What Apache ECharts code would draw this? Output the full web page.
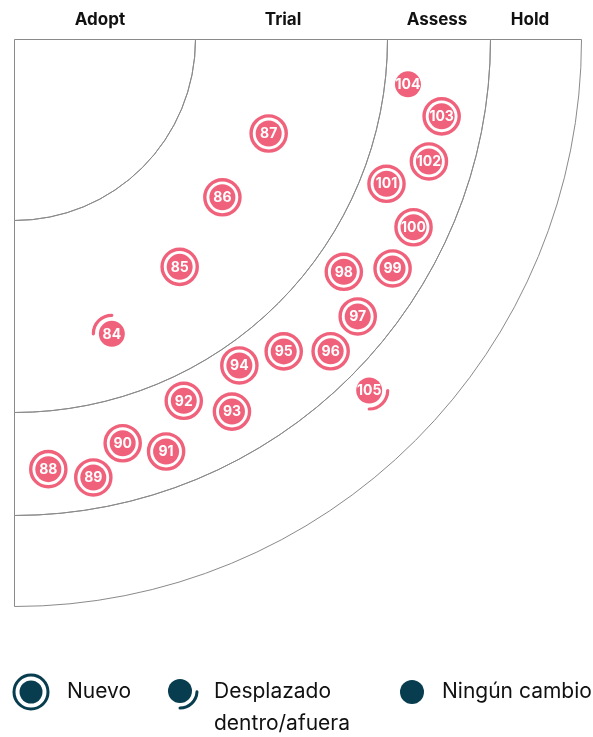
<!DOCTYPE html>
<html>
<head>
<meta charset="utf-8">
<script src="https://cdn.jsdelivr.net/npm/echarts@6/dist/echarts.min.js"></script>
<style>
html,body{margin:0;padding:0;background:#fff;}
#chart{width:593px;height:737px;}
</style>
</head>
<body>
<div id="chart"></div>
<script>
// ---- data ----
const ringNames = ['Adopt', 'Trial', 'Assess', 'Hold'];
const ringEdges = [181, 373, 476, 567];          // outer radius of each ring (radius units)
const ringLabelX = [100, 283, 437, 530];

const blipIds    = [84, 85, 86, 87, 88, 89, 90, 91, 92, 93, 94, 95, 96, 97, 98, 99, 100, 101, 102, 103, 104, 105];
const blipRadius = [310, 281, 261, 271, 431, 445, 418, 439, 399, 431, 396, 412, 444, 441, 403, 442, 441, 399, 432, 434, 396, 499];
const blipAngle  = [71.7, 54.0, 37.2, 20.3, 85.5, 79.8, 75.0, 69.8, 64.9, 59.7, 55.4, 49.2, 44.6, 38.9, 35.2, 31.2, 25.2, 21.2, 16.4, 10.2, 6.5, 44.7];
const blipStatus = ['in', 'new', 'new', 'new', 'new', 'new', 'new', 'new', 'new', 'new', 'new', 'new', 'new', 'new', 'new', 'new', 'new', 'new', 'new', 'new', 'none', 'out'];

const legendLabels = ['Nuevo', 'Desplazado\ndentro/afuera', 'Ningún cambio'];

// ---- styles ----
const PINK = '#f0627b';
const TEAL = '#073d4f';
const LINE = '#8a8a8a';
const CX = 14.5, CY = 39.5;

const ringWidths = ringEdges.map((e, i) => e - (i ? ringEdges[i - 1] : 0));

const ringSeries = ringWidths.map((w, i) => ({
  type: 'bar',
  coordinateSystem: 'polar',
  polarIndex: 0,
  stack: 'rings',
  name: ringNames[i],
  data: [w],
  barWidth: '100%',
  barCategoryGap: '0%',
  silent: true,
  itemStyle: { color: 'rgba(0,0,0,0)', borderColor: LINE, borderWidth: 1 }
}));

const blipData = blipIds.map((id, i) => [blipRadius[i], blipAngle[i], id]);

function renderBlip(params, api) {
  const p = api.coord([api.value(0), api.value(1)]);
  const cx = p[0], cy = p[1];
  const st = blipStatus[params.dataIndex];
  const ch = [];
  if (st === 'new') {
    ch.push({ type: 'circle', shape: { cx, cy, r: 17.6 }, style: { fill: null, stroke: PINK, lineWidth: 3.4 } });
  } else if (st === 'in') {
    ch.push({ type: 'arc', shape: { cx, cy, r: 18.5, startAngle: Math.PI, endAngle: Math.PI * 1.5, clockwise: true },
      style: { fill: null, stroke: PINK, lineWidth: 3.2, lineCap: 'round' } });
  } else if (st === 'out') {
    ch.push({ type: 'arc', shape: { cx, cy, r: 18.5, startAngle: 0, endAngle: Math.PI * 0.5, clockwise: true },
      style: { fill: null, stroke: PINK, lineWidth: 3.2, lineCap: 'round' } });
  }
  ch.push({ type: 'circle', shape: { cx, cy, r: 13 }, style: { fill: PINK } });
  ch.push({ type: 'text', style: { text: String(api.value(2)), x: cx, y: cy + 0.5, align: 'center', verticalAlign: 'middle',
    fill: '#fff', font: 'bold 14px Inter, "Open Sans", sans-serif' } });
  return { type: 'group', children: ch };
}

const graphics = [];
ringNames.forEach((n, i) => {
  graphics.push({ type: 'text', silent: true, position: [ringLabelX[i], 20],
    style: { text: n, x: 0, y: 0, align: 'center', verticalAlign: 'middle', fill: '#111', font: 'bold 17px Inter, sans-serif' } });
});
// legend
const LY = 692;
const LFONT = '21px Inter, sans-serif';
graphics.push(
  { type: 'circle', shape: { cx: 31, cy: LY, r: 17 }, style: { fill: null, stroke: TEAL, lineWidth: 3 } },
  { type: 'circle', shape: { cx: 31, cy: LY, r: 11.5 }, style: { fill: TEAL } },
  { type: 'text', style: { text: legendLabels[0], x: 67, y: LY, verticalAlign: 'middle', fill: '#111', font: LFONT } },
  { type: 'circle', shape: { cx: 180, cy: LY - 1, r: 12 }, style: { fill: TEAL } },
  { type: 'arc', shape: { cx: 180, cy: LY - 1, r: 17, startAngle: 0.05, endAngle: Math.PI * 0.5, clockwise: true },
    style: { fill: null, stroke: TEAL, lineWidth: 3, lineCap: 'round' } },
  { type: 'text', style: { text: legendLabels[1], x: 214, y: LY - 16, verticalAlign: 'top', fill: '#111', font: LFONT, lineHeight: 32 } },
  { type: 'circle', shape: { cx: 412, cy: LY, r: 12 }, style: { fill: TEAL } },
  { type: 'text', style: { text: legendLabels[2], x: 442, y: LY, verticalAlign: 'middle', fill: '#111', font: LFONT } }
);

const chart = echarts.init(document.getElementById('chart'), null, { renderer: 'canvas' });
chart.setOption({
  animation: false,
  backgroundColor: '#fff',
  polar: [
    { center: [CX, CY], radius: ringEdges[ringEdges.length - 1] },
    { center: [CX, CY], radius: ringEdges[ringEdges.length - 1] }
  ],
  angleAxis: [
    { polarIndex: 0, type: 'category', data: ['q1', 'q2', 'q3', 'q4'], startAngle: 0, clockwise: true, show: false },
    { polarIndex: 1, type: 'value', min: 0, max: 360, startAngle: 0, clockwise: true, show: false }
  ],
  radiusAxis: [
    { polarIndex: 0, type: 'value', min: 0, max: ringEdges[ringEdges.length - 1], show: false },
    { polarIndex: 1, type: 'value', min: 0, max: ringEdges[ringEdges.length - 1], show: false }
  ],
  series: ringSeries.concat([{
    type: 'custom',
    name: 'blips',
    coordinateSystem: 'polar',
    polarIndex: 1,
    encode: { radius: 0, angle: 1 },
    data: blipData,
    renderItem: renderBlip
  }]),
  graphic: graphics
});
</script>
</body>
</html>
